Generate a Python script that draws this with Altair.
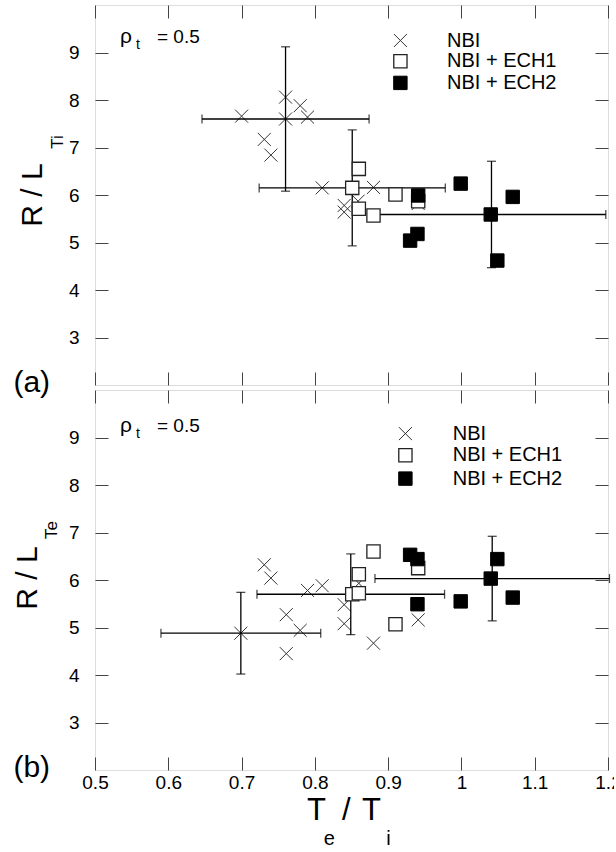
import altair as alt
import pandas as pd

# ---------------- data ----------------
x_label_values = [0.5, 0.6, 0.7, 0.8, 0.9, 1.0, 1.1, 1.2]
y_label_values = [3, 4, 5, 6, 7, 8, 9]
group_names = ["NBI", "NBI + ECH1", "NBI + ECH2"]

# (a) R/L_Ti versus Te/Ti
a_nbi_x = [0.700, 0.731, 0.740, 0.760, 0.760, 0.780, 0.790, 0.810, 0.840, 0.840, 0.859, 0.880, 0.941]
a_nbi_y = [7.66, 7.17, 6.84, 8.06, 7.60, 7.88, 7.64, 6.15, 5.78, 5.64, 5.87, 6.16, 5.82]
a_ech1_x = [0.851, 0.860, 0.860, 0.880, 0.910, 0.941]
a_ech1_y = [6.15, 6.55, 5.71, 5.57, 6.01, 5.87]
a_ech2_x = [0.930, 0.940, 0.941, 0.999, 1.040, 1.049, 1.070]
a_ech2_y = [5.04, 5.18, 5.99, 6.24, 5.59, 4.62, 5.96]

# (b) R/L_Te versus Te/Ti
b_nbi_x = [0.699, 0.731, 0.740, 0.761, 0.761, 0.780, 0.790, 0.810, 0.840, 0.840, 0.860, 0.880, 0.941]
b_nbi_y = [4.88, 6.32, 6.04, 5.27, 4.45, 4.94, 5.78, 5.88, 5.48, 5.08, 5.93, 4.67, 5.16]
b_ech1_x = [0.851, 0.860, 0.860, 0.880, 0.910, 0.941]
b_ech1_y = [5.70, 6.12, 5.72, 6.60, 5.07, 6.25]
b_ech2_x = [0.930, 0.940, 0.940, 0.999, 1.040, 1.049, 1.070]
b_ech2_y = [6.53, 6.44, 5.49, 5.55, 6.03, 6.44, 5.63]

# group centres and spreads (NBI, NBI + ECH1, NBI + ECH2)
a_err_cx = [0.760, 0.851, 1.041]
a_err_xe = [0.114, 0.127, 0.156]
a_err_cy = [7.60, 6.15, 5.59]
a_err_ye = [1.52, 1.22, 1.12]
b_err_cx = [0.699, 0.849, 1.042]
b_err_xe = [0.109, 0.128, 0.160]
b_err_cy = [4.88, 5.70, 6.03]
b_err_ye = [0.86, 0.85, 0.89]

# ---------------- styling ----------------
W, H = 513, 380
TICK = 13
FONT = "Liberation Sans"
X_PATH = "M-1,-1L1,1M1,-1L-1,1"
LABEL_SIZE = 19
LEGEND_SIZE = 20

xscale = alt.Scale(domain=[0.5, 1.2], nice=False, zero=False)
yscale = alt.Scale(domain=[2, 10], nice=False, zero=False)


def xenc(field, axis=None):
    return alt.X(field, type="quantitative", scale=xscale, axis=axis)


def yenc(field, axis=None):
    return alt.Y(field, type="quantitative", scale=yscale, axis=axis)


def inner_axis(orient, values, labels, fmt, pad):
    extra = {} if labels else dict(minExtent=0, maxExtent=0)
    return alt.Axis(
        orient=orient, values=values, labels=labels, format=fmt,
        offset=-TICK, tickSize=TICK, domain=False, grid=False, title=None,
        labelFlush=False, labelOverlap=False, labelPadding=pad,
        labelFontSize=LABEL_SIZE, labelFont=FONT, labelColor="black",
        tickColor="#444", tickWidth=1, **extra,
    )


def text(s, x, y, size, align="left", baseline="alphabetic", angle=0):
    props = dict(align=align, baseline=baseline, fontSize=size, font=FONT, color="black")
    if angle:
        props["angle"] = angle
    return alt.Chart(pd.DataFrame({"t": [s]})).mark_text(**props).encode(
        x=alt.value(x), y=alt.value(y), text="t:N"
    )


def legend(sx, tx, rows):
    layers = []
    shapes = [
        dict(shape=X_PATH, filled=False, stroke="#333", strokeWidth=1, size=170),
        dict(shape="square", filled=True, fill="white", stroke="#222", strokeWidth=1.3, size=175),
        dict(shape="square", filled=True, fill="black", stroke="black", strokeWidth=1, size=180),
    ]
    for name, ry, sp in zip(group_names, rows, shapes):
        layers.append(
            alt.Chart(pd.DataFrame({"g": [name]})).mark_point(opacity=1, **sp).encode(
                x=alt.value(sx), y=alt.value(ry)
            )
        )
        layers.append(text(name, tx, ry, LEGEND_SIZE, baseline="middle"))
    return layers


def panel(nbi_x, nbi_y, e1_x, e1_y, e2_x, e2_y, cx, xe, cy, ye,
          x_labels, rho_y, legend_x, legend_tx, legend_rows, tag, extra):
    nbi = alt.Chart(pd.DataFrame({"x": nbi_x, "y": nbi_y})).mark_point(
        shape=X_PATH, filled=False, stroke="#333", strokeWidth=1, size=170, opacity=1
    ).encode(
        x=xenc("x", inner_axis("bottom", x_label_values, x_labels, ".1~f", 3)),
        y=yenc("y", inner_axis("left", y_label_values, True, "d", 16)),
    )

    err = alt.Chart(pd.DataFrame({"cx": cx, "xe": xe, "cy": cy, "ye": ye})).transform_calculate(
        xlo="datum.cx - datum.xe", xhi="datum.cx + datum.xe",
        ylo="datum.cy - datum.ye", yhi="datum.cy + datum.ye",
    )
    hbar = err.mark_rule(color="black", strokeWidth=1.3).encode(
        x=xenc("xlo"), x2=alt.X2("xhi"), y=yenc("cy"))
    vbar = err.mark_rule(color="black", strokeWidth=1.3).encode(
        x=xenc("cx"), y=yenc("ylo"), y2=alt.Y2("yhi"))
    cap_l = err.mark_tick(orient="vertical", size=9, thickness=1.3, color="black").encode(
        x=xenc("xlo"), y=yenc("cy"))
    cap_r = err.mark_tick(orient="vertical", size=9, thickness=1.3, color="black").encode(
        x=xenc("xhi"), y=yenc("cy"))
    cap_b = err.mark_tick(orient="horizontal", size=9, thickness=1.3, color="black").encode(
        x=xenc("cx"), y=yenc("ylo"))
    cap_t = err.mark_tick(orient="horizontal", size=9, thickness=1.3, color="black").encode(
        x=xenc("cx"), y=yenc("yhi"))

    ech1 = alt.Chart(pd.DataFrame({"x": e1_x, "y": e1_y})).mark_point(
        shape="square", filled=True, fill="white", stroke="#222", strokeWidth=1.3, size=175, opacity=1
    ).encode(x=xenc("x"), y=yenc("y"))

    ech2 = alt.Chart(pd.DataFrame({"x": e2_x, "y": e2_y})).mark_point(
        shape="square", filled=True, fill="black", stroke="black", strokeWidth=1, size=180, opacity=1
    ).encode(
        x=xenc("x", inner_axis("top", x_label_values, False, ".1~f", 4)),
        y=yenc("y", inner_axis("right", y_label_values, False, "d", 4)),
    )

    rho = [
        text("ρ", 25, rho_y, 21),
        text("t", 41, rho_y + 6, 14),
        text("= 0.5", 62, rho_y, LABEL_SIZE),
    ]
    tag_txt = text(tag, -81.6, 378, 30, baseline="middle")

    layers = [nbi, hbar, vbar, cap_l, cap_r, cap_b, cap_t, ech1, ech2]
    layers += rho + legend(legend_x, legend_tx, legend_rows) + [tag_txt] + extra
    return alt.layer(*layers).resolve_axis(x="independent", y="independent").properties(
        width=W, height=H
    )


top_titles = [
    text("R / L", -52.6, 190, 30, align="center", angle=270),
    text("Ti", -31.6, 137, 17, align="center", angle=270),
]
bottom_titles = [
    text("R / L", -57.6, 188, 30, align="center", angle=270),
    text("Te", -37.6, 140, 17, align="center", angle=270),
    text("T", 221.4, 430, 31, align="center"),
    text("/", 251.4, 430, 31, align="center"),
    text("T", 276.4, 430, 31, align="center"),
    text("e", 234.4, 455, 20, align="center"),
    text("i", 293.4, 455, 20, align="center"),
]

top = panel(a_nbi_x, a_nbi_y, a_ech1_x, a_ech1_y, a_ech2_x, a_ech2_y,
            a_err_cx, a_err_xe, a_err_cy, a_err_ye,
            False, 38, 305.4, 352, [35.5, 56.2, 77.9], "(a)", top_titles)
bottom = panel(b_nbi_x, b_nbi_y, b_ech1_x, b_ech1_y, b_ech2_x, b_ech2_y,
               b_err_cx, b_err_xe, b_err_cy, b_err_ye,
               True, 42, 310.4, 357.7, [43.6, 65.2, 88.6], "(b)", bottom_titles)

chart = alt.vconcat(top, bottom, spacing=5, bounds="flush").properties(
    padding={"left": 12, "top": 4, "right": -8, "bottom": 0}
).configure_view(
    stroke="black", strokeWidth=1.4
).configure(
    font=FONT, background="white"
)

chart.save("out.html", embed_options={"renderer": "svg", "actions": False})
